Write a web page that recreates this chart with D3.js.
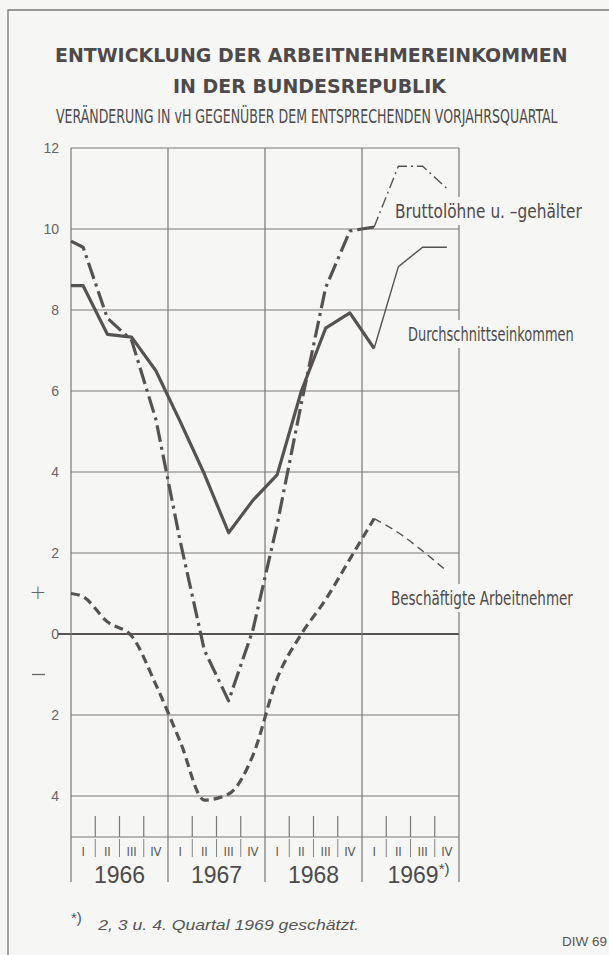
<!DOCTYPE html>
<html>
<head>
<meta charset="utf-8">
<script src="https://cdn.jsdelivr.net/npm/d3@7"></script>
<style>
body { margin: 0; background: #f6f7f5; }
svg { display: block; }
.cond { font-family: "DejaVu Sans Condensed", "DejaVu Sans", sans-serif; font-stretch: condensed; }
</style>
</head>
<body>
<svg id="chart" width="609" height="955"></svg>
<script>
// Quartale 1966 I .. 1969 IV, Veraenderung in vH gegenueber Vorjahresquartal
const jahre = ['1966', '1967', '1968', '1969']
const quartale = ['I', 'II', 'III', 'IV']
const yTicks = [12, 10, 8, 6, 4, 2, 0, -2, -4]

// Wert am linken Rand (Anfang 1966), dann ein Wert je Quartal
const bruttoStart = 9.7
const brutto = [9.55, 7.8, 7.25, 5.3, 2.3, -0.4, -1.65, 0.1, 2.7, 5.7, 8.55, 9.95, 10.05, 11.55, 11.55, 11.0]
const durchStart = 8.6
const durch = [8.6, 7.4, 7.33, 6.5, 5.25, 3.95, 2.5, 3.3, 3.93, 6.0, 7.55, 7.93, 7.05, 9.07, 9.55, 9.55]
const beschStart = 1.0
const besch = [0.92, 0.3, -0.05, -1.25, -2.65, -4.1, -3.95, -3.0, -1.1, 0.0, 0.85, 1.85, 2.85, 2.5, 2.05, 1.55]
const geschaetztAb = 12 // ab 1969 I duenne Linie (2.-4. Quartal geschaetzt)

const ink = '#565253'
const gridCol = '#7b7778'
const bg = '#f6f7f5'

const svg = d3.select('#chart')
svg.append('rect').attr('width', 609).attr('height', 955).attr('fill', bg)

// Rahmen
svg.append('path').attr('d', 'M8,955V10H609').attr('fill', 'none').attr('stroke', gridCol).attr('stroke-width', 1.3)

// squeeze a text horizontally to a given width (condensed look)
function fit(sel, w) {
	const n = sel.node().getComputedTextLength()
	const cx = sel.node().getBBox().x
	sel.attr('transform', `translate(${cx},0) scale(${w / n},1) translate(${-cx},0)`)
	return sel
}

// titles
const t1 = svg.append('text').attr('x', 55).attr('y', 62)
	.attr('font-family', 'DejaVu Sans, sans-serif').attr('font-weight', 700).attr('font-size', 20)
	.attr('fill', '#4e4a4b')
	.text('ENTWICKLUNG DER ARBEITNEHMEREINKOMMEN')
fit(t1, 513)
const t2 = svg.append('text').attr('x', 173).attr('y', 93)
	.attr('font-family', 'DejaVu Sans, sans-serif').attr('font-weight', 700).attr('font-size', 20)
	.attr('fill', '#4e4a4b')
	.text('IN DER BUNDESREPUBLIK')
fit(t2, 273)
const t3 = svg.append('text').attr('class', 'cond').attr('x', 56).attr('y', 123)
	.attr('font-size', 19.5).attr('fill', '#4e4a4b')
	.text('VERÄNDERUNG IN vH GEGENÜBER DEM ENTSPRECHENDEN VORJAHRSQUARTAL')
fit(t3, 502)

// scales
const x = d3.scaleLinear().domain([0, 16]).range([71, 459])
const y = d3.scaleLinear().domain([-4, 12]).range([796, 148])
const axisY = 837, yearBottom = 882

const grid = svg.append('g').attr('stroke', gridCol).attr('stroke-width', 1.2)

// horizontal grid
grid.selectAll('line.h').data(yTicks.filter(d => d !== 0)).join('line')
	.attr('x1', x(0)).attr('x2', x(16))
	.attr('y1', d => y(d)).attr('y2', d => y(d))
grid.append('line').attr('x1', 58).attr('x2', x(16)).attr('y1', y(0)).attr('y2', y(0))
	.attr('stroke', ink).attr('stroke-width', 2)

// vertical year lines
grid.selectAll('line.v').data(d3.range(0, 17, 4)).join('line')
	.attr('x1', d => x(d)).attr('x2', d => x(d))
	.attr('y1', y(12)).attr('y2', yearBottom)

// quarter axis
grid.append('line').attr('x1', x(0)).attr('x2', x(16)).attr('y1', axisY).attr('y2', axisY)
const qb = d3.range(16).filter(i => i % 4 !== 0)
grid.selectAll('line.qt').data(qb).join('line')
	.attr('x1', d => x(d)).attr('x2', d => x(d)).attr('y1', axisY - 21).attr('y2', axisY)
grid.selectAll('line.qb').data(qb).join('line')
	.attr('stroke-width', 0.9)
	.attr('x1', d => x(d)).attr('x2', d => x(d)).attr('y1', axisY + 2).attr('y2', axisY + 20)

// y tick labels
svg.append('g').selectAll('text').data(yTicks).join('text')
	.attr('x', 59).attr('y', d => y(d) + 5).attr('text-anchor', 'end')
	.attr('font-family', 'Liberation Sans, Arial, sans-serif').attr('font-size', 14)
	.attr('fill', '#666')
	.text(d => Math.abs(d))
svg.append('text').attr('x', 38).attr('y', y(1) + 5).attr('text-anchor', 'middle')
	.attr('font-family', 'DejaVu Sans, sans-serif').attr('font-size', 20).attr('font-weight', 300).attr('fill', '#666').text('+')
svg.append('line').attr('x1', 32).attr('x2', 45).attr('y1', y(-1)).attr('y2', y(-1))
	.attr('stroke', '#666').attr('stroke-width', 1.3)

// quarter + year labels
const qLabels = d3.range(16).map(i => ({i: i, t: quartale[i % 4]}))
svg.append('g').selectAll('text').data(qLabels).join('text').attr('class', 'cond')
	.attr('x', d => x(d.i + 0.5)).attr('y', axisY + 19).attr('text-anchor', 'middle')
	.attr('font-size', 13).attr('fill', '#5a5657')
	.text(d => d.t)
const yl = svg.append('g').selectAll('text').data(jahre).join('text')
	.attr('x', (d, i) => x(i * 4 + 2)).attr('y', yearBottom + 1).attr('text-anchor', 'middle')
	.attr('font-family', 'Liberation Sans, Arial, sans-serif').attr('font-size', 23)
	.attr('fill', '#4e4a4b')
	.text(d => d)
yl.filter(d => d === '1969').append('tspan').attr('font-size', 15).attr('dy', -9).text('*)')
yl.filter(d => d === '1969').attr('dx', 8)

// series
function pts(start, vals) {
	return [{i: 0, v: start}].concat(vals.map((v, k) => ({i: k + 0.5, v: v})))
}
function draw(data, curve, thick, thin) {
	const line = d3.line().x(d => x(d.i)).y(d => y(d.v)).curve(curve)
	const a = data.slice(0, geschaetztAb + 2)
	const b = data.slice(geschaetztAb + 1)
	svg.append('path').datum(a).attr('d', line).attr('fill', 'none')
		.attr('stroke', ink).attr('stroke-width', 3.2).attr('stroke-linejoin', 'round')
		.attr('stroke-dasharray', thick)
	svg.append('path').datum(b).attr('d', line).attr('fill', 'none')
		.attr('stroke', ink).attr('stroke-width', 1.4)
		.attr('stroke-dasharray', thin)
}
draw(pts(durchStart, durch), d3.curveLinear, null, null)
draw(pts(bruttoStart, brutto), d3.curveLinear, '17 5 3 5', '11 4 2 4')
draw(pts(beschStart, besch), d3.curveMonotoneX, '9 5', '8 5')

// labels with blank background
function label(t, lx, ly, w) {
	const g = svg.append('g')
	const r = g.append('rect').attr('fill', bg)
	const tx = g.append('text').attr('class', 'cond').attr('x', lx).attr('y', ly)
		.attr('font-size', 19).attr('fill', '#4e4a4b').text(t)
	const n = tx.node().getComputedTextLength()
	const bb = tx.node().getBBox()
	r.attr('x', bb.x - 3).attr('y', bb.y - 3).attr('width', bb.width + 6).attr('height', bb.height + 6)
	g.attr('transform', `translate(${lx},0) scale(${w / n},1) translate(${-lx},0)`)
}
label('Bruttolöhne u. –gehälter', 395, 218, 187)
label('Durchschnittseinkommen', 408, 341, 166)
label('Beschäftigte Arbeitnehmer', 391, 605, 182)

// footnote
svg.append('text').attr('x', 71).attr('y', 923)
	.attr('font-family', 'Liberation Sans, Arial, sans-serif').attr('fill', '#555').attr('font-size', 15)
	.text('*)')
const fn = svg.append('text').attr('x', 98).attr('y', 930)
	.attr('font-family', 'Liberation Sans, Arial, sans-serif').attr('fill', '#555')
	.attr('font-size', 14.5).attr('font-style', 'italic')
	.text('2, 3 u. 4. Quartal 1969 geschätzt.')
fit(fn, 261)
svg.append('text').attr('x', 562).attr('y', 946)
	.attr('font-family', 'Liberation Sans, Arial, sans-serif').attr('font-size', 13.5).attr('fill', '#555')
	.text('DIW 69')
</script>
</body>
</html>
